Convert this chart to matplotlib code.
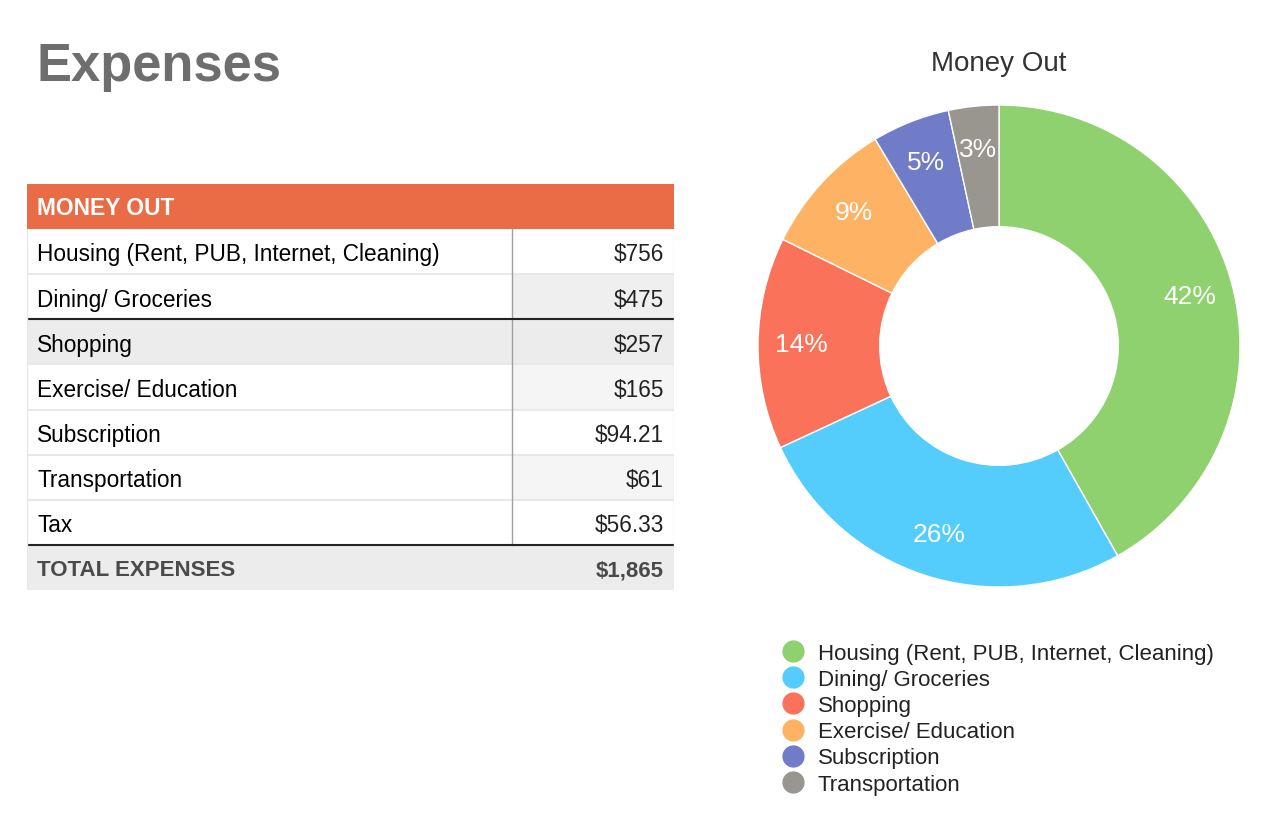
import matplotlib.pyplot as plt
from matplotlib.patches import Rectangle
from matplotlib.lines import Line2D

plt.rcParams['font.family'] = ['Liberation Sans', 'DejaVu Sans']

# data
categories = ["Housing (Rent, PUB, Internet, Cleaning)", "Dining/ Groceries", "Shopping",
              "Exercise/ Education", "Subscription", "Transportation", "Tax"]
amounts = [756, 475, 257, 165, 94.21, 61, 56.33]
amount_labels = ["$756", "$475", "$257", "$165", "$94.21", "$61", "$56.33"]
total_label = "$1,865"
pie_categories = categories[:6]
pie_values = amounts[:6]
pie_colors = ["#8fd16e", "#55cdfc", "#fb725a", "#feb364", "#717cc9", "#99958f"]

# cell backgrounds (label cell, value cell) per row
row_bg = [("white", "white"), ("white", "#efefef"), ("#ececec", "#ececec"),
          ("white", "#f5f5f5"), ("white", "white"), ("white", "#f5f5f5"),
          ("white", "white")]

W, H = 1280, 828
fig = plt.figure(figsize=(W / 100, H / 100), dpi=100)

fig.text(37 / W, 1 - 67 / H, "Expenses", fontsize=37.8, fontweight="bold",
         color="#6e6e6e", va="center", ha="left")

# ---- table ----
tw, split = 647, 485
n = len(categories)
tax = fig.add_axes([27 / W, 1 - 591 / H, tw / W, 406 / H])
tax.set_xlim(0, tw)
tax.set_ylim(n + 2, 0)
tax.axis("off")

tax.add_patch(Rectangle((0, 0), tw, 1, color="#ea6c46", lw=0))
tax.text(10, 0.53, "MONEY OUT", color="white", fontsize=16.4, fontweight="bold", va="center")

for i, (cat, lab) in enumerate(zip(categories, amount_labels)):
    y = i + 1
    bl, bv = row_bg[i]
    tax.add_patch(Rectangle((0, y), split, 1, color=bl, lw=0))
    tax.add_patch(Rectangle((split, y), tw - split, 1, color=bv, lw=0))
    tax.plot([0, tw], [y + 1, y + 1], color="#e8e8e8", lw=1.5)
    tax.text(10, y + 0.55, cat, fontsize=16.3, va="center", color="black")
    tax.text(tw - 10, y + 0.55, lab, fontsize=16.3, va="center", ha="right", color="#222222")

ty = n + 1
tax.add_patch(Rectangle((0, ty), tw, 1, color="#ececec", lw=0))
tax.text(10, ty + 0.55, "TOTAL EXPENSES", fontsize=16, fontweight="bold", va="center", color="#4a4a4a")
tax.text(tw - 10, ty + 0.55, total_label, fontsize=16, fontweight="bold", va="center", ha="right",
         color="#4a4a4a")
tax.plot([split, split], [1, n + 1], color="#a0a0a0", lw=1)
tax.plot([0, tw], [3, 3], color="#222222", lw=1.5)
tax.plot([0, tw], [n + 1, n + 1], color="#222222", lw=1.5)
tax.plot([0, 0], [1, n + 2], color="#e8e8e8", lw=1)
tax.plot([tw, tw], [1, n + 2], color="#e8e8e8", lw=1)

# ---- donut ----
r = 241
pax = fig.add_axes([(999 - r) / W, (828 - 588) / H, 2 * r / W, 2 * r / H])
wedges, texts, autotexts = pax.pie(
    pie_values, colors=pie_colors, startangle=90, counterclock=False,
    autopct="%1.0f%%", pctdistance=0.82, radius=1,
    wedgeprops=dict(width=0.505, edgecolor="white", linewidth=1),
    textprops=dict(color="white", fontsize=19))
pax.set_xlim(-1, 1)
pax.set_ylim(-1, 1)
pax.set_aspect("auto")
fig.text(999 / W, 1 - 64 / H, "Money Out", fontsize=20, ha="center", va="center", color="#333333")

handles = [Line2D([], [], marker="o", ls="", markersize=15, color=c) for c in pie_colors]
fig.legend(handles, pie_categories, loc="upper left", bbox_to_anchor=(780 / W, 1 - 644 / H),
           frameon=False, fontsize=16, handlelength=1.2, handletextpad=0.5, labelspacing=0.23,
           borderaxespad=0, borderpad=0, labelcolor="#222222")

fig.savefig("out.png", dpi=100)
